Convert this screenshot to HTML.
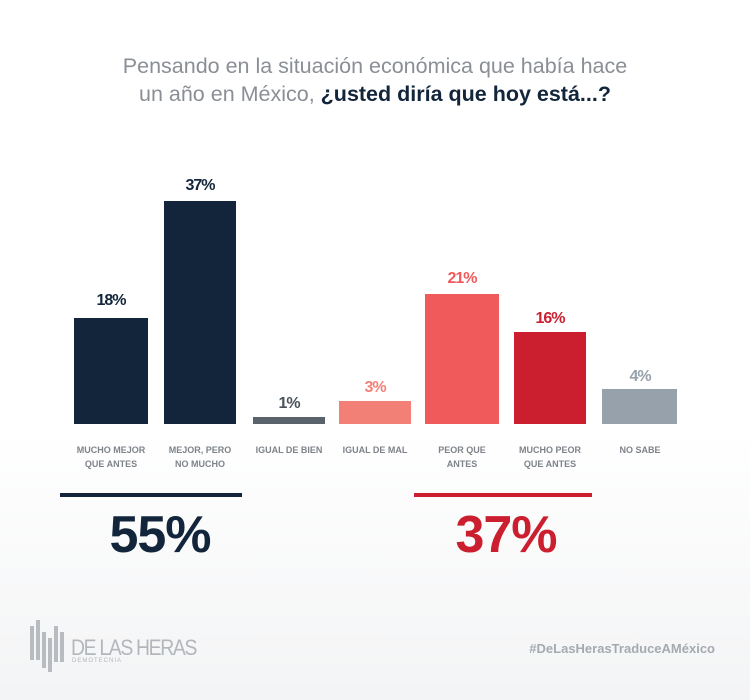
<!DOCTYPE html><html><head><meta charset="utf-8"><style>
body{margin:0}
#c{position:relative;width:750px;height:700px;overflow:hidden;font-family:"Liberation Sans",sans-serif;background:linear-gradient(#fff 0,#fff 430px,#f3f4f5 700px)}
.t{position:absolute;left:0;width:750px;text-align:center;font-size:21.5px;color:#8a8f96;line-height:28px;top:52px}
.b{position:absolute}
.v{position:absolute;width:90px;text-align:center;font-size:16px;font-weight:bold;letter-spacing:-1px}
.l{position:absolute;width:100px;text-align:center;font-size:9px;font-weight:bold;color:#7e838a;line-height:14px;top:443px}
.big{position:absolute;font-size:52px;font-weight:bold;top:505px;width:200px;text-align:center;letter-spacing:-1px}
</style></head><body><div id="c">
<div class="t">Pensando en la situación económica que había hace<br>un año en México, <b style="color:#12253b">¿usted diría que hoy está...?</b></div>
<div class="b" style="left:74px;width:74px;top:318px;height:106px;background:#12253b"></div>
<div class="b" style="left:164px;width:72px;top:201px;height:223px;background:#12253b"></div>
<div class="b" style="left:253px;width:72px;top:417px;height:7px;background:#5a636c"></div>
<div class="b" style="left:339px;width:72px;top:401px;height:23px;background:#f38076"></div>
<div class="b" style="left:425px;width:74px;top:294px;height:130px;background:#f05a5b"></div>
<div class="b" style="left:514px;width:72px;top:332px;height:92px;background:#cb1f30"></div>
<div class="b" style="left:602px;width:75px;top:389px;height:35px;background:#97a1ab"></div>
<div class="v" style="left:66px;top:292px;color:#12253b">18%</div>
<div class="v" style="left:155px;top:177px;color:#12253b">37%</div>
<div class="v" style="left:244px;top:395px;color:#4a525b">1%</div>
<div class="v" style="left:330px;top:379px;color:#f38076">3%</div>
<div class="v" style="left:417px;top:270px;color:#f05a5b">21%</div>
<div class="v" style="left:505px;top:310px;color:#cb1f30">16%</div>
<div class="v" style="left:595px;top:368px;color:#97a1ab">4%</div>
<div class="l" style="left:61px">MUCHO MEJOR<br>QUE ANTES</div>
<div class="l" style="left:150px">MEJOR, PERO<br>NO MUCHO</div>
<div class="l" style="left:239px">IGUAL DE BIEN</div>
<div class="l" style="left:325px">IGUAL DE MAL</div>
<div class="l" style="left:412px">PEOR QUE<br>ANTES</div>
<div class="l" style="left:500px">MUCHO PEOR<br>QUE ANTES</div>
<div class="l" style="left:590px">NO SABE</div>
<div style="position:absolute;left:60px;top:493px;width:182px;height:4px;background:#12253b"></div>
<div style="position:absolute;left:414px;top:493px;width:178px;height:4px;background:#cb1f30"></div>
<div class="big" style="left:60px;color:#12253b">55%</div>
<div class="big" style="left:406px;color:#cb1f30">37%</div>
<svg style="position:absolute;left:30px;top:618px" width="38" height="54"><g fill="#b8bcc0"><rect x="0" y="8" width="4" height="34"/><rect x="6" y="2" width="4" height="40"/><rect x="12" y="14" width="4" height="36"/><rect x="18" y="20" width="4" height="34"/><rect x="24" y="8" width="4" height="36"/><rect x="30" y="14" width="4" height="30"/></g></svg>
<div style="position:absolute;left:71px;top:635px;font-size:22px;color:#b3b7bb;letter-spacing:-1.5px;transform:scaleX(0.88);transform-origin:left">DE LAS HERAS</div>
<div style="position:absolute;left:72px;top:658px;font-size:6px;color:#b3b7bb;letter-spacing:1px">DEMOTECNIA</div>
<div style="position:absolute;right:35px;top:641px;font-size:13px;font-weight:bold;color:#a5aab0">#DeLasHerasTraduceAMéxico</div>
</div></body></html>
